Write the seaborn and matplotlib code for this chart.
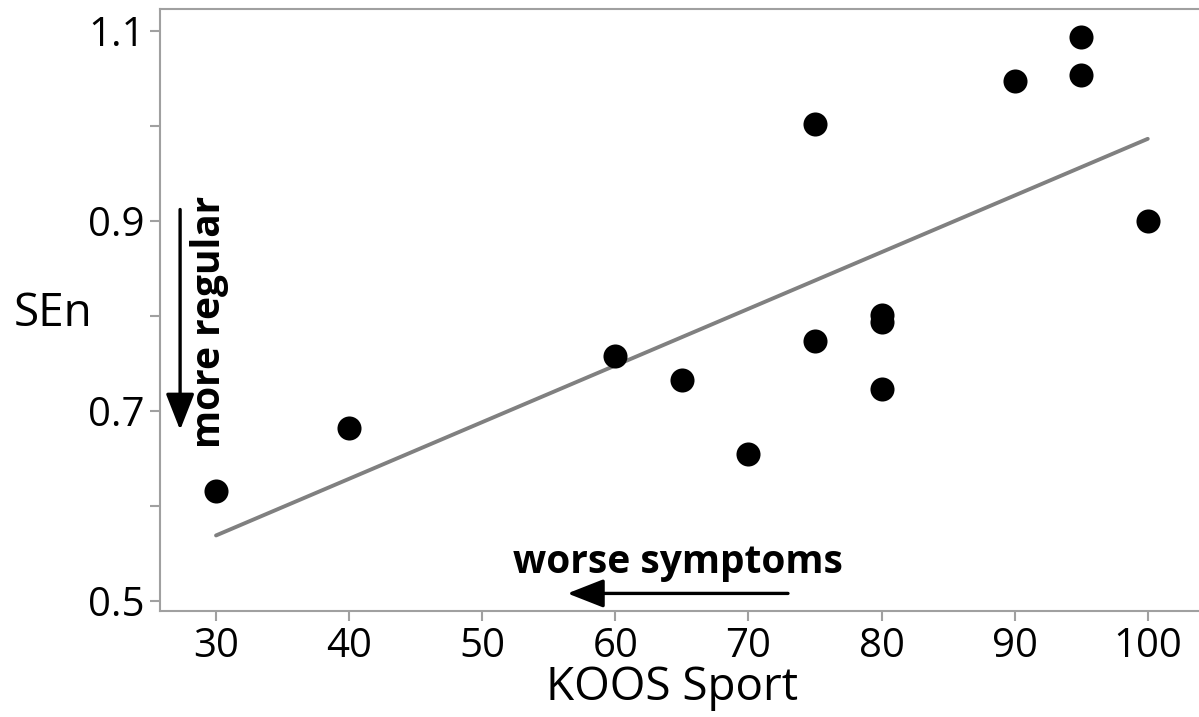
import numpy as np
import pandas as pd
import matplotlib
matplotlib.use("Agg")
import matplotlib.pyplot as plt
import seaborn as sns

# Werte
koos_sport = [30, 40, 60, 65, 70, 75, 75, 80, 80, 80, 90, 95, 95, 100]
sen = [0.616, 0.682, 0.758, 0.733, 0.655, 1.002, 0.774, 0.801, 0.794, 0.723, 1.047, 1.094, 1.054, 0.900]
x_ticks = [30, 40, 50, 60, 70, 80, 90, 100]
y_ticks = [0.5, 0.7, 0.9, 1.1]
y_minor = [0.6, 0.8, 1.0]

df = pd.DataFrame({"KOOS Sport": koos_sport, "SEn": sen})

sns.set_style("white")
plt.rcParams['font.family'] = ['Open Sans', 'DejaVu Sans']
plt.rcParams['text.color'] = 'black'
plt.rcParams['axes.labelcolor'] = 'black'

fig = plt.figure(figsize=(11.99, 7.17), dpi=100)
ax = fig.add_axes([160 / 1199, 1 - 611 / 717, 1 - 160 / 1199, 602 / 717])

sns.regplot(data=df, x="KOOS Sport", y="SEn", ci=None, ax=ax,
            scatter_kws=dict(s=300, color="black", alpha=1, linewidths=0, zorder=3),
            line_kws=dict(color="#808080", lw=2.8, zorder=2))

ax.set_xlim(25.79, 103.85)
ax.set_ylim(0.4895, 1.123)
ax.set_xticks(x_ticks)
ax.set_yticks(y_ticks)
ax.set_yticks(y_minor, minor=True)

grey = "#a0a0a0"
for side in ["left", "bottom", "top"]:
    ax.spines[side].set_color(grey)
    ax.spines[side].set_linewidth(1.5)
ax.spines["right"].set_visible(False)
ax.tick_params(axis="both", which="both", direction="out", length=7, width=1.5,
               color=grey, labelsize=29, labelcolor="black", left=True, bottom=True, pad=4)

ax.set_xlabel("KOOS Sport", fontsize=33)
ax.set_ylabel("SEn", fontsize=33, rotation=0)
ax.yaxis.set_label_coords(-0.103, 0.455)
ax.xaxis.set_label_coords(0.493, -0.148)
ax.xaxis.label.set_va("baseline")

# Pfeile und Beschriftungen
arrow = dict(arrowstyle="-|>,head_width=0.55,head_length=1.4", color="black",
             lw=2.4, mutation_scale=16, shrinkA=0, shrinkB=0)
ax.annotate("", xy=(27.3, 0.68), xytext=(27.3, 0.912), arrowprops=arrow)
ax.text(29.5, 0.794, "more regular", rotation=90, ha="center", va="center",
        fontsize=28, fontweight="bold")
ax.annotate("", xy=(56.4, 0.508), xytext=(72.97, 0.508), arrowprops=arrow)
ax.text(64.7, 0.541, "worse symptoms", ha="center", va="center",
        fontsize=28, fontweight="bold")

plt.savefig("out.png", dpi=100)
